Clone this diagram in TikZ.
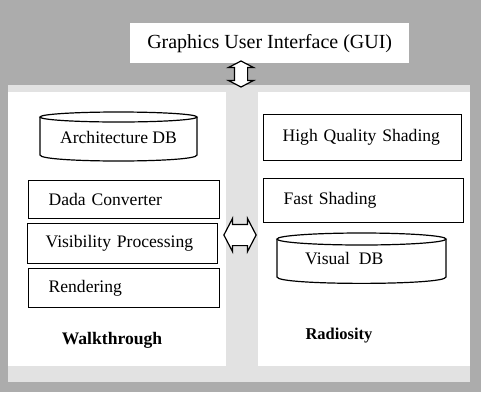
\documentclass[tikz,border=0pt]{standalone}
\usepackage{fontspec}
\setmainfont{Liberation Serif}
\usetikzlibrary{shapes.arrows}
\definecolor{bgtex}{RGB}{172,172,172}
\definecolor{speck}{RGB}{226,226,226}
\begin{document}
\begin{tikzpicture}[x=1pt,y=-1pt,
  bodyfont/.style={font=\fontsize{17.6}{20}\selectfont},
  procbox/.style={draw, line width=1.2pt, fill=white, rectangle, anchor=north west, align=left, inner ysep=0pt, bodyfont},
  cyl/.style={draw, line width=1.2pt, fill=white},
  lbl/.style={font=\fontsize{17.6}{20}\selectfont\bfseries},
  dblarrow/.style={double arrow, draw, fill=white, line width=1.2pt, double arrow tip angle=125}
]
\useasboundingbox (0,0) rectangle (481,392);
% background
\fill[bgtex] (0,0) rectangle (481,392);
\fill[speck] (8,85) rectangle (470,382);
\fill[white] (8,92) rectangle (226,366);
\fill[white] (258,92) rectangle (470,366);

% GUI
\node[fill=white, minimum width=279, minimum height=40, anchor=north west, inner sep=0pt,
      font=\fontsize{20}{24}\selectfont] (gui) at (130,23) {Graphics User Interface (GUI)};
\node[dblarrow, inner sep=6pt, double arrow head extend=6pt, minimum height=26pt, rotate=90] (varr) at (241,74) {};

% Walkthrough side
\draw[cyl] (40,117) -- (40,155) .. controls (40,163) and (197,163) .. (197,155) -- (197,117);
\draw[cyl] (118.5,117) ellipse [x radius=78.5, y radius=5];
\node[bodyfont] (archdb) at (118.5,137) {Architecture DB};

\node[procbox, inner xsep=20pt, text width=151pt, minimum height=38pt] (dada) at (28,180) {Dada Converter};
\node[procbox, inner xsep=18pt, text width=154pt, minimum height=40pt] (vis) at (27,223) {Visibility Processing};
\node[procbox, inner xsep=20pt, text width=151pt, minimum height=39pt] (rend) at (28,268) {Rendering};
\node[lbl] (walk) at (112,340) {Walkthrough};

% middle arrow
\node[dblarrow, inner sep=10pt, double arrow head extend=6pt, minimum height=32pt] (harr) at (240,235) {};

% Radiosity side
\node[procbox, inner xsep=19pt, text width=160pt, minimum height=46pt] (hqs) at (263,114) {High Quality Shading};
\node[procbox, inner xsep=20pt, text width=160pt, minimum height=44pt] (fast) at (263,178) {Fast Shading};
\draw[cyl] (277,239) -- (277,277) .. controls (277,285.5) and (446,285.5) .. (446,277) -- (446,239);
\draw[cyl] (361.5,239) ellipse [x radius=84.5, y radius=6];
\node[bodyfont, anchor=west, inner sep=0pt] (visdb) at (305,259) {Visual\ \ DB};
\node[lbl, font=\fontsize{16.5}{20}\selectfont\bfseries] (rad) at (339,336) {Radiosity};
\end{tikzpicture}
\end{document}
